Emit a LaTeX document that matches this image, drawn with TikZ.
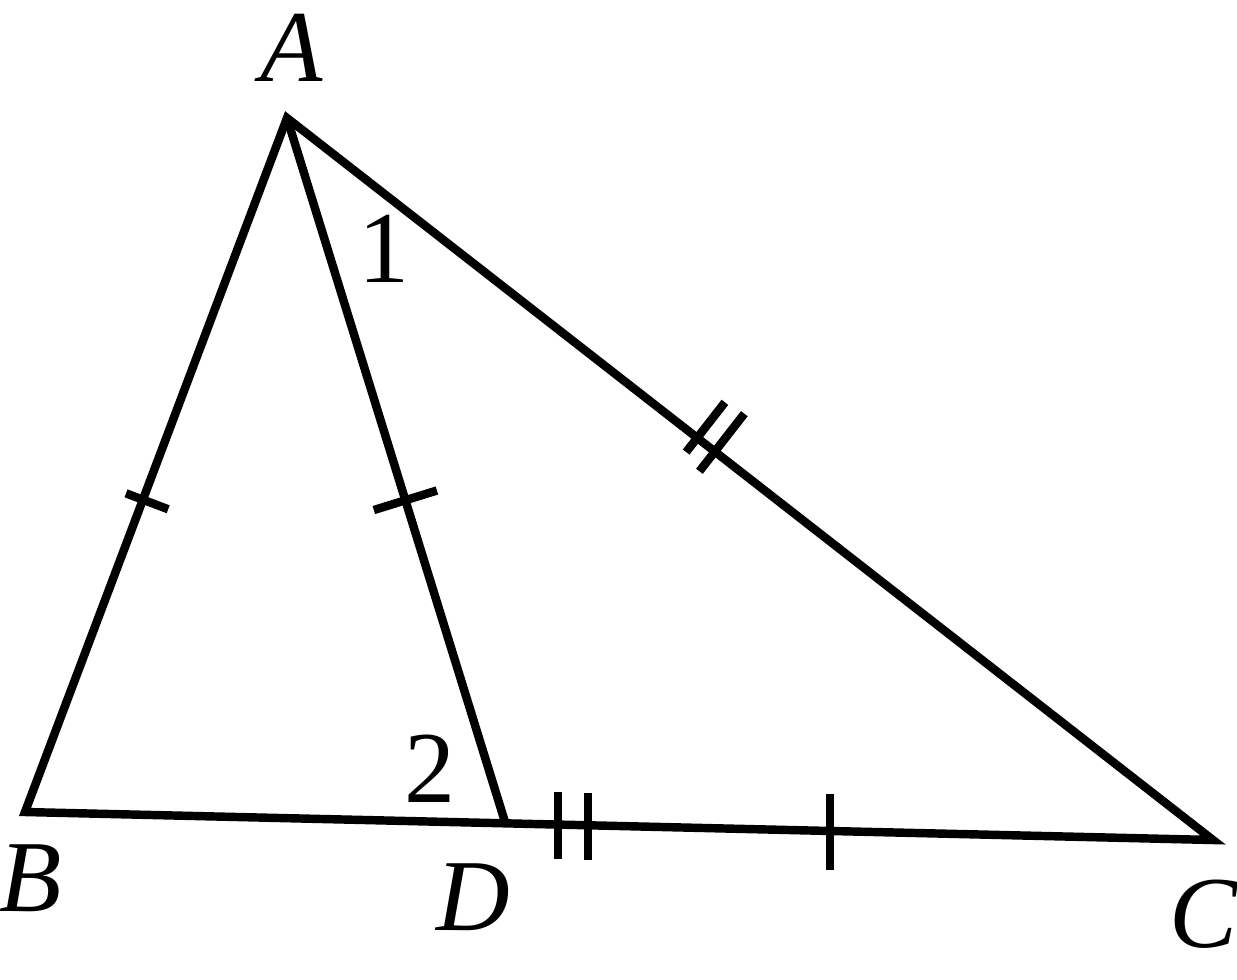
\documentclass[tikz,border=0pt]{standalone}
\usepackage{fontspec}
\setmainfont{Liberation Serif}
\usetikzlibrary{calc}
\tikzset{
  lab/.style={font=\fontsize{29}{30}\selectfont\itshape, inner sep=0pt},
  num/.style={font=\fontsize{29}{30}\selectfont, inner sep=0pt},
  shapeLine/.style={line width=2.4pt, draw=black, line join=miter},
  tick/.style={line width=2.4pt, draw=black}
}
\begin{document}
\begin{tikzpicture}[x=0.01cm, y=-0.01cm]
\useasboundingbox (0,0) rectangle (1237,979);
\coordinate (A) at (287,118);
\coordinate (B) at (25,812);
\coordinate (D) at (505,822);
\coordinate (C) at (1213,840);
\draw[shapeLine] (B)--(A)--(C)--cycle;
\draw[shapeLine] (A)--(D);
\node[lab] (lA) at (292,48) {A};
\node[lab] (lB) at (31,878) {B};
\node[lab] (lD) at (473,897) {D};
\node[lab] (lC) at (1203,914) {C};
\node[num] (n1) at (384,249) {1};
\node[num] (n2) at (430,769) {2};

% equal marks AB = AD
\coordinate (mAB) at ($(A)!0.55!(B)$);
\coordinate (mAD) at ($(A)!0.543!(D)$);
\draw[tick] ($(mAB)!0.18cm!90:(A)$) -- ($(mAB)!0.27cm!-90:(A)$);
\draw[tick] ($(mAD)!0.33cm!90:(A)$) -- ($(mAD)!0.33cm!-90:(A)$);

% double marks on AC and DC
\coordinate (mAC1) at ($(A)!0.443!(C)$);
\coordinate (mAC2) at ($(A)!0.462!(C)$);
\draw[tick] ($(mAC1)!0.18cm!90:(A)$) -- ($(mAC1)!0.45cm!-90:(A)$);
\draw[tick] ($(mAC2)!0.25cm!90:(A)$) -- ($(mAC2)!0.48cm!-90:(A)$);
\coordinate (mDC1) at ($(D)!0.075!(C)$);
\coordinate (mDC2) at ($(D)!0.117!(C)$);
\coordinate (mDC3) at ($(D)!0.459!(C)$);
\draw[tick] ($(mDC1)+(0,-31)$) -- ($(mDC1)+(0,36)$);
\draw[tick] ($(mDC2)+(0,-31)$) -- ($(mDC2)+(0,36)$);
\draw[tick] ($(mDC3)+(0,-36)$) -- ($(mDC3)+(0,40)$);
\end{tikzpicture}
\end{document}
